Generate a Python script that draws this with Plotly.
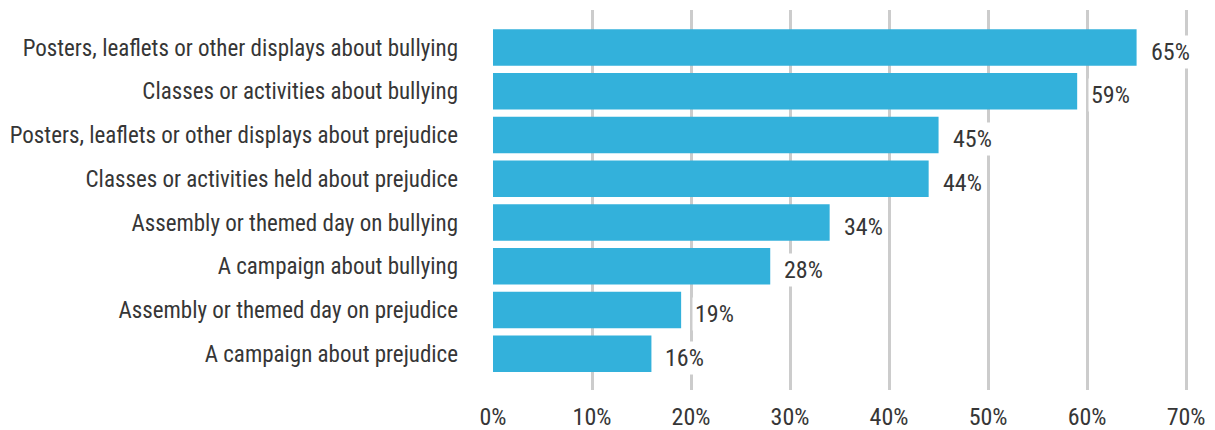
import plotly.graph_objects as go

categories = [
    "Posters, leaflets or other displays about bullying",
    "Classes or activities about bullying",
    "Posters, leaflets or other displays about prejudice",
    "Classes or activities held about prejudice",
    "Assembly or themed day on bullying",
    "A campaign about bullying",
    "Assembly or themed day on prejudice",
    "A campaign about prejudice",
]
values = [65, 59, 45, 44, 34, 28, 19, 16]
x_ticks = [0, 10, 20, 30, 40, 50, 60, 70]
x_tick_labels = [f"{t}%" for t in x_ticks]

FONT = "Roboto Condensed, Liberation Sans Narrow, Roboto, sans-serif"
TEXT = "#363636"
idx = list(range(len(categories)))

fig = go.Figure()
fig.add_trace(go.Bar(
    x=values, y=idx, orientation="h",
    marker=dict(color="#33b1db", line=dict(width=0)),
    width=0.834, hoverinfo="skip",
))

for i, v in zip(idx, values):
    fig.add_annotation(
        x=v, y=i, text=f"{v}%", showarrow=False,
        xanchor="left", yanchor="middle", xshift=11, yshift=-4,
        bgcolor="white", borderpad=2,
        font=dict(family=FONT, size=24, color=TEXT),
    )

fig.update_layout(
    width=1215, height=430,
    margin=dict(l=485, r=27, t=2, b=48),
    paper_bgcolor="white", plot_bgcolor="white",
    showlegend=False,
    xaxis=dict(
        range=[0, 71], tickvals=x_ticks, ticktext=x_tick_labels,
        showgrid=True, gridcolor="#cccccc", gridwidth=3,
        zeroline=False, showline=False, ticks="",
        ticklabelstandoff=10,
        tickfont=dict(family=FONT, size=24, color=TEXT),
        fixedrange=True,
    ),
    yaxis=dict(
        range=[7.83, -0.86], tickvals=idx, ticktext=categories,
        showgrid=False, zeroline=False, showline=False, ticks="",
        ticklabelstandoff=34,
        tickfont=dict(family=FONT, size=23, color=TEXT),
        fixedrange=True,
    ),
)

fig.write_html("out.html")
